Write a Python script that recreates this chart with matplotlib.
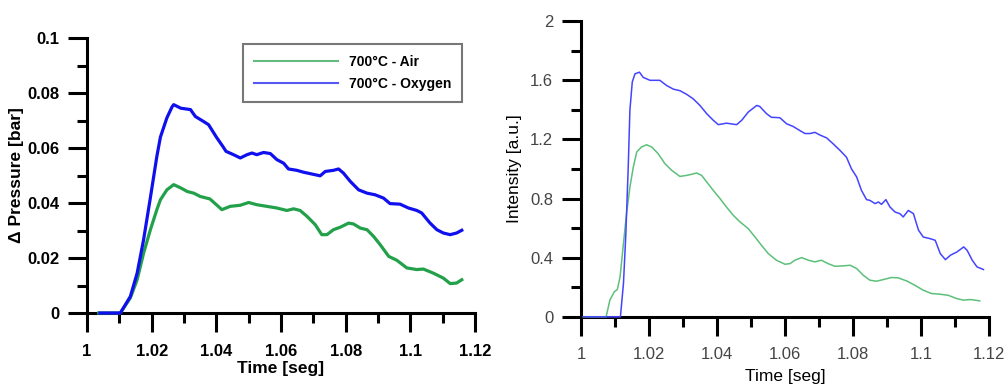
import numpy as np
import matplotlib
matplotlib.use("Agg")
import matplotlib.pyplot as plt
from matplotlib.ticker import MultipleLocator

plt.rcParams['font.family'] = ['Liberation Sans', 'DejaVu Sans']

# Left panel: pressure traces
t_air_p = [1.0036, 1.0103, 1.0134, 1.0155, 1.0175, 1.0196, 1.0216, 1.0227, 1.0247, 1.0268,
           1.029, 1.031, 1.033, 1.035, 1.038, 1.040, 1.0417, 1.0443, 1.0474, 1.05,
           1.0525, 1.0556, 1.0587, 1.0618, 1.0639, 1.0659, 1.068, 1.0706, 1.0726, 1.0742,
           1.0762, 1.0783, 1.0809, 1.0824, 1.0845, 1.0866, 1.0886, 1.0907, 1.0933, 1.0958,
           1.0989, 1.102, 1.104, 1.1071, 1.1102, 1.1123, 1.1143, 1.1159]
p_air = [0.0, 0.0, 0.0055, 0.0121, 0.0218, 0.0303, 0.0376, 0.0412, 0.0448, 0.0467,
         0.0455, 0.0442, 0.0436, 0.0424, 0.0415, 0.0394, 0.0376, 0.0388, 0.0392, 0.0402,
         0.0394, 0.0388, 0.0382, 0.0373, 0.0379, 0.0373, 0.0352, 0.0321, 0.0285, 0.0285,
         0.0303, 0.0312, 0.0327, 0.0324, 0.0309, 0.0303, 0.0279, 0.0248, 0.0206, 0.0192,
         0.0164, 0.0158, 0.016, 0.0145, 0.0127, 0.0107, 0.0109, 0.0121]

t_oxy_p = [1.004, 1.0103, 1.0134, 1.0155, 1.0175, 1.0196, 1.0216, 1.0227, 1.0247, 1.0263,
           1.0268, 1.029, 1.032, 1.0335, 1.036, 1.0376, 1.040, 1.042, 1.043, 1.0453,
           1.0474, 1.0495, 1.051, 1.0525, 1.0546, 1.0567, 1.0587, 1.0608, 1.0623, 1.0649,
           1.067, 1.069, 1.0721, 1.0737, 1.0762, 1.0778, 1.0793, 1.0814, 1.084, 1.0866,
           1.0891, 1.0917, 1.0937, 1.0968, 1.0994, 1.102, 1.1035, 1.1061, 1.1082, 1.1102,
           1.1123, 1.1143, 1.1159]
p_oxy = [0.0, 0.0, 0.006, 0.0145, 0.0267, 0.042, 0.057, 0.064, 0.071, 0.075,
         0.0758, 0.0745, 0.074, 0.0715, 0.0697, 0.0685, 0.064, 0.0606, 0.0588, 0.0576,
         0.0564, 0.0576, 0.0582, 0.0576, 0.0584, 0.058, 0.0558, 0.0545, 0.0524, 0.0519,
         0.0512, 0.0507, 0.0499, 0.0515, 0.0519, 0.0524, 0.0509, 0.0479, 0.0448, 0.0436,
         0.043, 0.0418, 0.0398, 0.0396, 0.0382, 0.0373, 0.0364, 0.0327, 0.0303, 0.0291,
         0.0285, 0.0291, 0.0301]

# Right panel: emission intensity traces
t_air_i = [1.0007, 1.0074, 1.0085, 1.0098, 1.0107, 1.0115, 1.0126, 1.0134, 1.0144, 1.0154,
           1.0164, 1.0178, 1.0193, 1.0208, 1.0227, 1.0247, 1.0267, 1.0291, 1.0311, 1.0325,
           1.034, 1.0355, 1.037, 1.0389, 1.0409, 1.0428, 1.0448, 1.0468, 1.0492, 1.0512,
           1.0531, 1.0551, 1.0575, 1.06, 1.0615, 1.0629, 1.0649, 1.0669, 1.0688, 1.0707,
           1.0727, 1.0747, 1.0772, 1.0792, 1.0811, 1.083, 1.085, 1.0869, 1.0889, 1.0913,
           1.0933, 1.0958, 1.0982, 1.1007, 1.1031, 1.1056, 1.108, 1.1105, 1.1125, 1.1145,
           1.1159, 1.1173]
i_air = [0.0, 0.0, 0.113, 0.169, 0.185, 0.27, 0.518, 0.698, 0.878, 1.013,
         1.115, 1.149, 1.164, 1.149, 1.104, 1.036, 0.991, 0.95, 0.957, 0.964,
         0.973, 0.957, 0.912, 0.856, 0.8, 0.743, 0.687, 0.642, 0.597, 0.54,
         0.484, 0.428, 0.383, 0.356, 0.36, 0.383, 0.401, 0.383, 0.372, 0.383,
         0.36, 0.342, 0.345, 0.349, 0.327, 0.282, 0.248, 0.241, 0.252, 0.266,
         0.264, 0.243, 0.214, 0.18, 0.158, 0.153, 0.146, 0.124, 0.113, 0.117,
         0.113, 0.108]

t_oxy_i = [1.0007, 1.0116, 1.0125, 1.0132, 1.0139, 1.0144, 1.0151, 1.0159, 1.0172, 1.0183,
           1.0203, 1.0232, 1.0252, 1.0272, 1.0291, 1.0311, 1.033, 1.035, 1.037, 1.0389,
           1.0404, 1.0428, 1.0458, 1.0473, 1.0492, 1.0517, 1.0526, 1.0546, 1.056, 1.0585,
           1.0605, 1.0624, 1.0644, 1.0659, 1.0674, 1.0688, 1.0703, 1.0723, 1.0742, 1.0762,
           1.0781, 1.0796, 1.0811, 1.0825, 1.084, 1.085, 1.0865, 1.0875, 1.0884, 1.0897,
           1.0909, 1.0924, 1.0938, 1.0948, 1.0963, 1.0978, 1.0993, 1.1007, 1.1027, 1.1042,
           1.1057, 1.1072, 1.1087, 1.1106, 1.1126, 1.1136, 1.1151, 1.1165, 1.1184]
i_oxy = [0.0, 0.0, 0.225, 0.56, 1.01, 1.40, 1.59, 1.644, 1.655, 1.62,
         1.60, 1.60, 1.565, 1.54, 1.53, 1.505, 1.475, 1.43, 1.374, 1.33,
         1.30, 1.31, 1.30, 1.33, 1.385, 1.43, 1.423, 1.374, 1.35, 1.347,
         1.306, 1.288, 1.26, 1.24, 1.24, 1.248, 1.23, 1.21, 1.17, 1.126,
         1.08, 1.00, 0.946, 0.856, 0.793, 0.788, 0.766, 0.777, 0.761, 0.793,
         0.743, 0.709, 0.698, 0.676, 0.72, 0.698, 0.586, 0.54, 0.529, 0.518,
         0.428, 0.387, 0.417, 0.439, 0.473, 0.45, 0.383, 0.338, 0.32]

labels = ['700°C - Air', '700°C - Oxygen']


def style_axes(ax, ymax, ymajor, label_color, weight, size):
    ax.set_xlim(1, 1.12)
    ax.set_ylim(0, ymax)
    ax.xaxis.set_major_locator(MultipleLocator(0.02))
    ax.xaxis.set_minor_locator(MultipleLocator(0.01))
    ax.yaxis.set_major_locator(MultipleLocator(ymajor))
    ax.yaxis.set_minor_locator(MultipleLocator(ymajor / 2))
    for s in ['top', 'right']:
        ax.spines[s].set_visible(False)
    for s in ['left', 'bottom']:
        ax.spines[s].set_linewidth(2.2)
    ax.tick_params(which='major', length=14, width=2.2, direction='out',
                   labelsize=size, labelcolor=label_color, pad=6)
    ax.tick_params(which='minor', length=7, width=2.2, direction='out')
    ax.tick_params(axis='x', which='major', pad=8)
    ax.xaxis.set_major_formatter(plt.FuncFormatter(lambda v, p: f'{v:g}'))
    ax.yaxis.set_major_formatter(plt.FuncFormatter(lambda v, p: f'{v:g}'))
    for lab in ax.get_xticklabels() + ax.get_yticklabels():
        lab.set_fontweight(weight)


fig = plt.figure(figsize=(10.06, 3.85), dpi=100)

ax1 = fig.add_axes([0.0865, 0.187, 0.3857, 0.714])
ax1.plot(t_air_p, p_air, color='#22a04a', lw=2.3, label=labels[0], zorder=3, clip_on=False)
ax1.plot(t_oxy_p, p_oxy, color='#1010ee', lw=2.3, label=labels[1], zorder=3, clip_on=False)
style_axes(ax1, 0.1, 0.02, 'black', 'bold', 12)
ax1.set_xlabel('Time [seg]', fontsize=12.5, fontweight='bold', labelpad=2)
ax1.set_ylabel('Δ Pressure [bar]', fontsize=12.5, fontweight='bold', labelpad=2)
leg = ax1.legend(loc='upper right', bbox_to_anchor=(0.985, 1.005), fancybox=False,
                 edgecolor='#555555', handlelength=6.0, borderpad=0.8, labelspacing=0.6,
                 prop={'size': 10, 'weight': 'bold'})
leg.get_frame().set_linewidth(1.5)
for line in leg.get_lines():
    line.set_linewidth(1.5)
    line.set_alpha(0.7)

ax2 = fig.add_axes([0.5775, 0.177, 0.4055, 0.768])
ax2.plot(t_air_i, i_air, color='#5cc07a', lw=1.1, zorder=3, clip_on=False)
ax2.plot(t_oxy_i, i_oxy, color='#4444ff', lw=1.1, zorder=3, clip_on=False)
style_axes(ax2, 2, 0.4, '#444444', 'normal', 12)
ax2.set_xlabel('Time [seg]', fontsize=12.5, labelpad=5)
ax2.set_ylabel('Intensity [a.u.]', fontsize=12.5, labelpad=6)

fig.savefig('out.png', dpi=100)
